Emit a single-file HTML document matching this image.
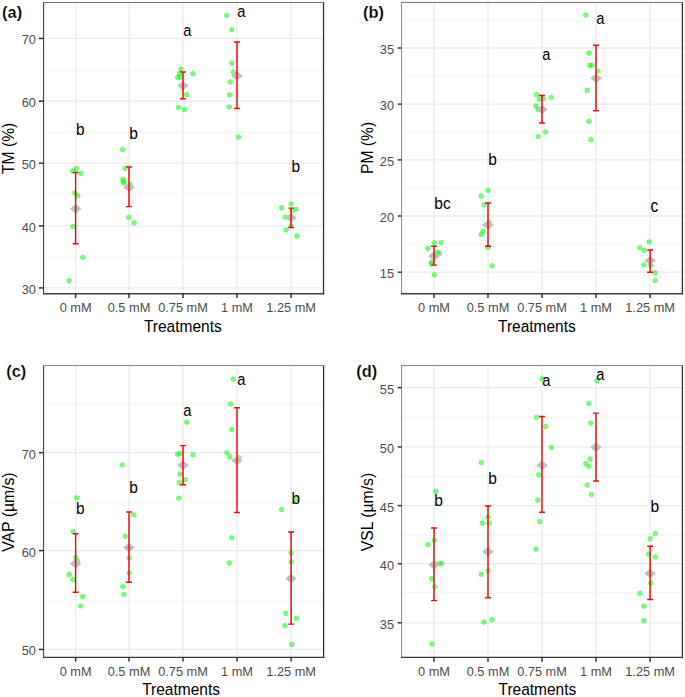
<!DOCTYPE html>
<html><head><meta charset="utf-8"><style>
html,body{margin:0;padding:0;background:#fff;width:685px;height:697px;overflow:hidden}
svg{display:block}
text{font-family:"Liberation Sans",sans-serif}
.yt{font-size:12.8px;fill:#4d4d4d;text-anchor:end}
.xt{font-size:12.8px;fill:#4d4d4d;text-anchor:middle}
.ti{font-size:15.5px;fill:#000}
.l{font-size:15.5px;fill:#000}
.tg{font-size:16.4px;font-weight:bold;fill:#000;stroke:#fff;stroke-width:.2px}
.p{fill:#00ff00;fill-opacity:.5;stroke:#00ff00;stroke-opacity:.5;stroke-width:.8}
.e{fill:none;stroke:#ff0000;stroke-width:1.45}
</style></head><body>
<svg width="685" height="697" viewBox="0 0 685 697">
<rect width="685" height="697" fill="#fff"/>
<g>
<line x1="43.55" x2="323.55" y1="257.2" y2="257.2" stroke="#f4f4f4" stroke-width="1.1"/>
<line x1="43.55" x2="323.55" y1="194.3" y2="194.3" stroke="#f4f4f4" stroke-width="1.1"/>
<line x1="43.55" x2="323.55" y1="132.4" y2="132.4" stroke="#f4f4f4" stroke-width="1.1"/>
<line x1="43.55" x2="323.55" y1="70.2" y2="70.2" stroke="#f4f4f4" stroke-width="1.1"/>
<line x1="43.55" x2="323.55" y1="7.8" y2="7.8" stroke="#f4f4f4" stroke-width="1.1"/>
<line x1="43.55" x2="323.55" y1="287.9" y2="287.9" stroke="#ebebeb" stroke-width="1.3"/>
<line x1="43.55" x2="323.55" y1="225.95" y2="225.95" stroke="#ebebeb" stroke-width="1.3"/>
<line x1="43.55" x2="323.55" y1="163.2" y2="163.2" stroke="#ebebeb" stroke-width="1.3"/>
<line x1="43.55" x2="323.55" y1="101.2" y2="101.2" stroke="#ebebeb" stroke-width="1.3"/>
<line x1="43.55" x2="323.55" y1="38.45" y2="38.45" stroke="#ebebeb" stroke-width="1.3"/>
<line x1="75.63" x2="75.63" y1="2.5" y2="293.75" stroke="#ebebeb" stroke-width="1.3"/>
<line x1="129" x2="129" y1="2.5" y2="293.75" stroke="#ebebeb" stroke-width="1.3"/>
<line x1="183" x2="183" y1="2.5" y2="293.75" stroke="#ebebeb" stroke-width="1.3"/>
<line x1="237" x2="237" y1="2.5" y2="293.75" stroke="#ebebeb" stroke-width="1.3"/>
<line x1="291.1" x2="291.1" y1="2.5" y2="293.75" stroke="#ebebeb" stroke-width="1.3"/>
<circle cx="69.05" cy="280.8" r="2.35" class="p"/>
<circle cx="82.8" cy="257.4" r="2.35" class="p"/>
<circle cx="72.9" cy="226.7" r="2.35" class="p"/>
<circle cx="74.9" cy="193" r="2.35" class="p"/>
<circle cx="77.8" cy="195.9" r="2.35" class="p"/>
<circle cx="72.6" cy="171.2" r="2.35" class="p"/>
<circle cx="76.3" cy="168.6" r="2.35" class="p"/>
<circle cx="80.8" cy="173.3" r="2.35" class="p"/>
<circle cx="122.5" cy="149.5" r="2.35" class="p"/>
<circle cx="125.1" cy="168.3" r="2.35" class="p"/>
<circle cx="122.9" cy="179.4" r="2.35" class="p"/>
<circle cx="123.5" cy="181.4" r="2.35" class="p"/>
<circle cx="123.9" cy="183" r="2.35" class="p"/>
<circle cx="130.1" cy="184.4" r="2.35" class="p"/>
<circle cx="128.7" cy="217.4" r="2.35" class="p"/>
<circle cx="134.1" cy="222.8" r="2.35" class="p"/>
<circle cx="180.9" cy="69.1" r="2.35" class="p"/>
<circle cx="179.5" cy="73.4" r="2.35" class="p"/>
<circle cx="177.7" cy="77.4" r="2.35" class="p"/>
<circle cx="180.2" cy="77.2" r="2.35" class="p"/>
<circle cx="192.9" cy="73.8" r="2.35" class="p"/>
<circle cx="186.6" cy="94.7" r="2.35" class="p"/>
<circle cx="178.5" cy="107.4" r="2.35" class="p"/>
<circle cx="184.4" cy="109.7" r="2.35" class="p"/>
<circle cx="226.8" cy="15.5" r="2.35" class="p"/>
<circle cx="231.8" cy="29.8" r="2.35" class="p"/>
<circle cx="231.8" cy="63.2" r="2.35" class="p"/>
<circle cx="233.2" cy="72.2" r="2.35" class="p"/>
<circle cx="230.3" cy="81.9" r="2.35" class="p"/>
<circle cx="229.6" cy="94.8" r="2.35" class="p"/>
<circle cx="229.2" cy="107" r="2.35" class="p"/>
<circle cx="238.5" cy="137.1" r="2.35" class="p"/>
<circle cx="291.1" cy="204" r="2.35" class="p"/>
<circle cx="281.7" cy="207.9" r="2.35" class="p"/>
<circle cx="291.8" cy="210.8" r="2.35" class="p"/>
<circle cx="296.1" cy="209.3" r="2.35" class="p"/>
<circle cx="285" cy="217.2" r="2.35" class="p"/>
<circle cx="291.1" cy="225.8" r="2.35" class="p"/>
<circle cx="286" cy="229.8" r="2.35" class="p"/>
<circle cx="296.8" cy="235.9" r="2.35" class="p"/>
<path d="M69.83 208.7L75.63 203.95L81.43 208.7L75.63 213.45Z" fill="#bebebe"/>
<path d="M123.2 187.5L129 182.75L134.8 187.5L129 192.25Z" fill="#bebebe"/>
<path d="M177.2 85.7L183 80.95L188.8 85.7L183 90.45Z" fill="#bebebe"/>
<path d="M231.2 75.7L237 70.95L242.8 75.7L237 80.45Z" fill="#bebebe"/>
<path d="M285.3 217.8L291.1 213.05L296.9 217.8L291.1 222.55Z" fill="#bebebe"/>
<path d="M75.63 172.5V243.8M72.73 172.5H78.53M72.73 243.8H78.53" class="e"/>
<path d="M129 166.9V206.6M126.1 166.9H131.9M126.1 206.6H131.9" class="e"/>
<path d="M183 72V98.8M180.1 72H185.9M180.1 98.8H185.9" class="e"/>
<path d="M237 42V108.4M234.1 42H239.9M234.1 108.4H239.9" class="e"/>
<path d="M291.1 208.1V227.4M288.2 208.1H294M288.2 227.4H294" class="e"/>
<text transform="translate(75.98 135.3) scale(1.0 1.1)" class="l">b</text>
<text transform="translate(129.35 139.2) scale(1.0 1.1)" class="l">b</text>
<text transform="translate(183.35 36) scale(0.95 1.1)" class="l">a</text>
<text transform="translate(237.35 17.4) scale(0.95 1.1)" class="l">a</text>
<text transform="translate(291.45 171.7) scale(1.0 1.1)" class="l">b</text>
<line x1="43.55" x2="43.55" y1="2" y2="294.35" stroke="#4d4d4d" stroke-width="1.2"/>
<line x1="323.55" x2="323.55" y1="2" y2="294.35" stroke="#333" stroke-width="1.3"/>
<line x1="43.05" x2="324.15" y1="2.5" y2="2.5" stroke="#707070" stroke-width="1.0"/>
<line x1="43.05" x2="324.15" y1="293.75" y2="293.75" stroke="#404040" stroke-width="1.3"/>
<line x1="38.9" x2="43.55" y1="287.9" y2="287.9" stroke="#333333" stroke-width="1.5"/>
<text transform="translate(35.95 293.9) scale(1 1.06)" class="yt">30</text>
<line x1="38.9" x2="43.55" y1="225.95" y2="225.95" stroke="#333333" stroke-width="1.5"/>
<text transform="translate(35.95 231.95) scale(1 1.06)" class="yt">40</text>
<line x1="38.9" x2="43.55" y1="163.2" y2="163.2" stroke="#333333" stroke-width="1.5"/>
<text transform="translate(35.95 169.2) scale(1 1.06)" class="yt">50</text>
<line x1="38.9" x2="43.55" y1="101.2" y2="101.2" stroke="#333333" stroke-width="1.5"/>
<text transform="translate(35.95 107.2) scale(1 1.06)" class="yt">60</text>
<line x1="38.9" x2="43.55" y1="38.45" y2="38.45" stroke="#333333" stroke-width="1.5"/>
<text transform="translate(35.95 44.45) scale(1 1.06)" class="yt">70</text>
<line x1="75.63" x2="75.63" y1="293.75" y2="298.05" stroke="#333333" stroke-width="1.5"/>
<text transform="translate(75.63 311.95) scale(1 1.06)" class="xt">0 mM</text>
<line x1="129" x2="129" y1="293.75" y2="298.05" stroke="#333333" stroke-width="1.5"/>
<text transform="translate(129 311.95) scale(1 1.06)" class="xt">0.5 mM</text>
<line x1="183" x2="183" y1="293.75" y2="298.05" stroke="#333333" stroke-width="1.5"/>
<text transform="translate(183 311.95) scale(1 1.06)" class="xt">0.75 mM</text>
<line x1="237" x2="237" y1="293.75" y2="298.05" stroke="#333333" stroke-width="1.5"/>
<text transform="translate(237 311.95) scale(1 1.06)" class="xt">1 mM</text>
<line x1="291.1" x2="291.1" y1="293.75" y2="298.05" stroke="#333333" stroke-width="1.5"/>
<text transform="translate(291.1 311.95) scale(1 1.06)" class="xt">1.25 mM</text>
<text transform="translate(182.8 331.8) scale(1 1.07)" class="ti" text-anchor="middle">Treatments</text>
<text transform="translate(14.3 148.35) rotate(-90) scale(1.01 1.07)" class="ti" text-anchor="middle">TM (%)</text>
<text transform="translate(2.08 17.5) scale(1 1.04)" class="tg">(a)</text>
</g>
<g>
<line x1="401.6" x2="682.4" y1="244.3" y2="244.3" stroke="#f4f4f4" stroke-width="1.1"/>
<line x1="401.6" x2="682.4" y1="188.2" y2="188.2" stroke="#f4f4f4" stroke-width="1.1"/>
<line x1="401.6" x2="682.4" y1="131.8" y2="131.8" stroke="#f4f4f4" stroke-width="1.1"/>
<line x1="401.6" x2="682.4" y1="76" y2="76" stroke="#f4f4f4" stroke-width="1.1"/>
<line x1="401.6" x2="682.4" y1="20.5" y2="20.5" stroke="#f4f4f4" stroke-width="1.1"/>
<line x1="401.6" x2="682.4" y1="272.2" y2="272.2" stroke="#ebebeb" stroke-width="1.3"/>
<line x1="401.6" x2="682.4" y1="216" y2="216" stroke="#ebebeb" stroke-width="1.3"/>
<line x1="401.6" x2="682.4" y1="159.9" y2="159.9" stroke="#ebebeb" stroke-width="1.3"/>
<line x1="401.6" x2="682.4" y1="104.1" y2="104.1" stroke="#ebebeb" stroke-width="1.3"/>
<line x1="401.6" x2="682.4" y1="48" y2="48" stroke="#ebebeb" stroke-width="1.3"/>
<line x1="434" x2="434" y1="2.4" y2="293.75" stroke="#ebebeb" stroke-width="1.3"/>
<line x1="488" x2="488" y1="2.4" y2="293.75" stroke="#ebebeb" stroke-width="1.3"/>
<line x1="542" x2="542" y1="2.4" y2="293.75" stroke="#ebebeb" stroke-width="1.3"/>
<line x1="596" x2="596" y1="2.4" y2="293.75" stroke="#ebebeb" stroke-width="1.3"/>
<line x1="650.1" x2="650.1" y1="2.4" y2="293.75" stroke="#ebebeb" stroke-width="1.3"/>
<circle cx="434.4" cy="242.9" r="2.35" class="p"/>
<circle cx="440.9" cy="242.5" r="2.35" class="p"/>
<circle cx="428" cy="248.3" r="2.35" class="p"/>
<circle cx="439.3" cy="253.2" r="2.35" class="p"/>
<circle cx="437.2" cy="252.5" r="2.35" class="p"/>
<circle cx="431.4" cy="262.2" r="2.35" class="p"/>
<circle cx="431.6" cy="263.9" r="2.35" class="p"/>
<circle cx="434.4" cy="274.8" r="2.35" class="p"/>
<circle cx="488.1" cy="190.3" r="2.35" class="p"/>
<circle cx="481.2" cy="196.2" r="2.35" class="p"/>
<circle cx="483.8" cy="204.8" r="2.35" class="p"/>
<circle cx="489.2" cy="222.3" r="2.35" class="p"/>
<circle cx="483.1" cy="231.4" r="2.35" class="p"/>
<circle cx="481.2" cy="234.5" r="2.35" class="p"/>
<circle cx="488.1" cy="247.4" r="2.35" class="p"/>
<circle cx="492.1" cy="265.8" r="2.35" class="p"/>
<circle cx="536.7" cy="94.7" r="2.35" class="p"/>
<circle cx="539.5" cy="99.2" r="2.35" class="p"/>
<circle cx="543.4" cy="98.8" r="2.35" class="p"/>
<circle cx="551.1" cy="97.5" r="2.35" class="p"/>
<circle cx="535.9" cy="106.1" r="2.35" class="p"/>
<circle cx="538.2" cy="109.5" r="2.35" class="p"/>
<circle cx="545.5" cy="132" r="2.35" class="p"/>
<circle cx="538.2" cy="136.6" r="2.35" class="p"/>
<circle cx="585.8" cy="15.1" r="2.35" class="p"/>
<circle cx="588.9" cy="53.1" r="2.35" class="p"/>
<circle cx="589.6" cy="65.3" r="2.35" class="p"/>
<circle cx="592.1" cy="65.3" r="2.35" class="p"/>
<circle cx="597.8" cy="71.3" r="2.35" class="p"/>
<circle cx="587.2" cy="90.4" r="2.35" class="p"/>
<circle cx="588.9" cy="121.3" r="2.35" class="p"/>
<circle cx="590.8" cy="139.6" r="2.35" class="p"/>
<circle cx="649.3" cy="241.8" r="2.35" class="p"/>
<circle cx="639.7" cy="247.6" r="2.35" class="p"/>
<circle cx="644.3" cy="250.4" r="2.35" class="p"/>
<circle cx="644" cy="264.8" r="2.35" class="p"/>
<circle cx="650.8" cy="265.5" r="2.35" class="p"/>
<circle cx="655.1" cy="272.7" r="2.35" class="p"/>
<circle cx="655.1" cy="280.6" r="2.35" class="p"/>
<path d="M428.2 256.1L434 251.35L439.8 256.1L434 260.85Z" fill="#bebebe"/>
<path d="M482.2 224.9L488 220.15L493.8 224.9L488 229.65Z" fill="#bebebe"/>
<path d="M536.2 109.6L542 104.85L547.8 109.6L542 114.35Z" fill="#bebebe"/>
<path d="M590.2 78.2L596 73.45L601.8 78.2L596 82.95Z" fill="#bebebe"/>
<path d="M644.3 260.5L650.1 255.75L655.9 260.5L650.1 265.25Z" fill="#bebebe"/>
<path d="M434 246.3V265.1M431.1 246.3H436.9M431.1 265.1H436.9" class="e"/>
<path d="M488 203V246.3M485.1 203H490.9M485.1 246.3H490.9" class="e"/>
<path d="M542 95.5V122.9M539.1 95.5H544.9M539.1 122.9H544.9" class="e"/>
<path d="M596 45.2V110.7M593.1 45.2H598.9M593.1 110.7H598.9" class="e"/>
<path d="M650.1 249.9V272.2M647.2 249.9H653M647.2 272.2H653" class="e"/>
<text transform="translate(434.35 209.1) scale(1.0 1.1)" class="l">bc</text>
<text transform="translate(488.35 164.9) scale(1.0 1.1)" class="l">b</text>
<text transform="translate(542.35 60.3) scale(0.95 1.1)" class="l">a</text>
<text transform="translate(596.35 24.2) scale(0.95 1.1)" class="l">a</text>
<text transform="translate(650.45 211.6) scale(1.0 1.2)" class="l">c</text>
<line x1="401.6" x2="401.6" y1="1.9" y2="294.35" stroke="#888" stroke-width="1.0"/>
<line x1="682.4" x2="682.4" y1="1.9" y2="294.35" stroke="#333" stroke-width="1.3"/>
<line x1="401.1" x2="683" y1="2.4" y2="2.4" stroke="#707070" stroke-width="1.0"/>
<line x1="401.1" x2="683" y1="293.75" y2="293.75" stroke="#404040" stroke-width="1.3"/>
<line x1="397.8" x2="401.6" y1="272.2" y2="272.2" stroke="#333333" stroke-width="1.5"/>
<text transform="translate(394 278.2) scale(1 1.06)" class="yt">15</text>
<line x1="397.8" x2="401.6" y1="216" y2="216" stroke="#333333" stroke-width="1.5"/>
<text transform="translate(394 222) scale(1 1.06)" class="yt">20</text>
<line x1="397.8" x2="401.6" y1="159.9" y2="159.9" stroke="#333333" stroke-width="1.5"/>
<text transform="translate(394 165.9) scale(1 1.06)" class="yt">25</text>
<line x1="397.8" x2="401.6" y1="104.1" y2="104.1" stroke="#333333" stroke-width="1.5"/>
<text transform="translate(394 110.1) scale(1 1.06)" class="yt">30</text>
<line x1="397.8" x2="401.6" y1="48" y2="48" stroke="#333333" stroke-width="1.5"/>
<text transform="translate(394 54) scale(1 1.06)" class="yt">35</text>
<line x1="434" x2="434" y1="293.75" y2="298.05" stroke="#333333" stroke-width="1.5"/>
<text transform="translate(434 311.95) scale(1 1.06)" class="xt">0 mM</text>
<line x1="488" x2="488" y1="293.75" y2="298.05" stroke="#333333" stroke-width="1.5"/>
<text transform="translate(488 311.95) scale(1 1.06)" class="xt">0.5 mM</text>
<line x1="542" x2="542" y1="293.75" y2="298.05" stroke="#333333" stroke-width="1.5"/>
<text transform="translate(542 311.95) scale(1 1.06)" class="xt">0.75 mM</text>
<line x1="596" x2="596" y1="293.75" y2="298.05" stroke="#333333" stroke-width="1.5"/>
<text transform="translate(596 311.95) scale(1 1.06)" class="xt">1 mM</text>
<line x1="650.1" x2="650.1" y1="293.75" y2="298.05" stroke="#333333" stroke-width="1.5"/>
<text transform="translate(650.1 311.95) scale(1 1.06)" class="xt">1.25 mM</text>
<text transform="translate(536.9 332.3) scale(1 1.07)" class="ti" text-anchor="middle">Treatments</text>
<text transform="translate(373 147.9) rotate(-90) scale(1.01 1.07)" class="ti" text-anchor="middle">PM (%)</text>
<text transform="translate(362.98 17.6) scale(1 1.04)" class="tg">(b)</text>
</g>
<g>
<line x1="43.55" x2="323.6" y1="600.3" y2="600.3" stroke="#f4f4f4" stroke-width="1.1"/>
<line x1="43.55" x2="323.6" y1="502" y2="502" stroke="#f4f4f4" stroke-width="1.1"/>
<line x1="43.55" x2="323.6" y1="404" y2="404" stroke="#f4f4f4" stroke-width="1.1"/>
<line x1="43.55" x2="323.6" y1="649.45" y2="649.45" stroke="#ebebeb" stroke-width="1.3"/>
<line x1="43.55" x2="323.6" y1="550.6" y2="550.6" stroke="#ebebeb" stroke-width="1.3"/>
<line x1="43.55" x2="323.6" y1="452.7" y2="452.7" stroke="#ebebeb" stroke-width="1.3"/>
<line x1="75.63" x2="75.63" y1="365.5" y2="657.3" stroke="#ebebeb" stroke-width="1.3"/>
<line x1="129" x2="129" y1="365.5" y2="657.3" stroke="#ebebeb" stroke-width="1.3"/>
<line x1="183" x2="183" y1="365.5" y2="657.3" stroke="#ebebeb" stroke-width="1.3"/>
<line x1="237" x2="237" y1="365.5" y2="657.3" stroke="#ebebeb" stroke-width="1.3"/>
<line x1="291.1" x2="291.1" y1="365.5" y2="657.3" stroke="#ebebeb" stroke-width="1.3"/>
<circle cx="76.8" cy="497.9" r="2.35" class="p"/>
<circle cx="73.2" cy="531.6" r="2.35" class="p"/>
<circle cx="75.8" cy="557.6" r="2.35" class="p"/>
<circle cx="77.4" cy="561.2" r="2.35" class="p"/>
<circle cx="69.2" cy="574.4" r="2.35" class="p"/>
<circle cx="72.9" cy="579.7" r="2.35" class="p"/>
<circle cx="82.7" cy="596.6" r="2.35" class="p"/>
<circle cx="80.5" cy="606" r="2.35" class="p"/>
<circle cx="122.3" cy="465" r="2.35" class="p"/>
<circle cx="133.8" cy="514.8" r="2.35" class="p"/>
<circle cx="125.2" cy="536.3" r="2.35" class="p"/>
<circle cx="129.1" cy="557.8" r="2.35" class="p"/>
<circle cx="129.1" cy="573" r="2.35" class="p"/>
<circle cx="122.9" cy="586.6" r="2.35" class="p"/>
<circle cx="123.8" cy="594.5" r="2.35" class="p"/>
<circle cx="186.7" cy="422.2" r="2.35" class="p"/>
<circle cx="177.5" cy="454.2" r="2.35" class="p"/>
<circle cx="180.1" cy="453.4" r="2.35" class="p"/>
<circle cx="193" cy="454.8" r="2.35" class="p"/>
<circle cx="180.1" cy="474.1" r="2.35" class="p"/>
<circle cx="185.2" cy="479.8" r="2.35" class="p"/>
<circle cx="179.2" cy="482.7" r="2.35" class="p"/>
<circle cx="178.8" cy="498.2" r="2.35" class="p"/>
<circle cx="233.2" cy="379.1" r="2.35" class="p"/>
<circle cx="230.6" cy="404" r="2.35" class="p"/>
<circle cx="231.8" cy="429.6" r="2.35" class="p"/>
<circle cx="226.8" cy="452.8" r="2.35" class="p"/>
<circle cx="229.9" cy="456.8" r="2.35" class="p"/>
<circle cx="238.8" cy="457.9" r="2.35" class="p"/>
<circle cx="231.8" cy="537.8" r="2.35" class="p"/>
<circle cx="229.2" cy="563" r="2.35" class="p"/>
<circle cx="295.7" cy="499.4" r="2.35" class="p"/>
<circle cx="281.5" cy="509.7" r="2.35" class="p"/>
<circle cx="291.1" cy="552.9" r="2.35" class="p"/>
<circle cx="291.1" cy="562.1" r="2.35" class="p"/>
<circle cx="285.8" cy="613.4" r="2.35" class="p"/>
<circle cx="296.5" cy="618.4" r="2.35" class="p"/>
<circle cx="284.9" cy="625.7" r="2.35" class="p"/>
<circle cx="291.8" cy="644.4" r="2.35" class="p"/>
<path d="M69.83 563.5L75.63 558.75L81.43 563.5L75.63 568.25Z" fill="#bebebe"/>
<path d="M123.2 547.5L129 542.75L134.8 547.5L129 552.25Z" fill="#bebebe"/>
<path d="M177.2 465.3L183 460.55L188.8 465.3L183 470.05Z" fill="#bebebe"/>
<path d="M231.2 460.5L237 455.75L242.8 460.5L237 465.25Z" fill="#bebebe"/>
<path d="M285.3 578.4L291.1 573.65L296.9 578.4L291.1 583.15Z" fill="#bebebe"/>
<path d="M75.63 533.8V592.3M72.73 533.8H78.53M72.73 592.3H78.53" class="e"/>
<path d="M129 511.9V582.3M126.1 511.9H131.9M126.1 582.3H131.9" class="e"/>
<path d="M183 445.6V484.8M180.1 445.6H185.9M180.1 484.8H185.9" class="e"/>
<path d="M237 407.8V512.5M234.1 407.8H239.9M234.1 512.5H239.9" class="e"/>
<path d="M291.1 531.9V624.1M288.2 531.9H294M288.2 624.1H294" class="e"/>
<text transform="translate(75.98 513.5) scale(1.0 1.1)" class="l">b</text>
<text transform="translate(129.35 492.7) scale(1.0 1.1)" class="l">b</text>
<text transform="translate(183.35 415.6) scale(0.95 1.1)" class="l">a</text>
<text transform="translate(237.35 385.3) scale(0.95 1.1)" class="l">a</text>
<text transform="translate(291.45 504.2) scale(1.0 1.1)" class="l">b</text>
<line x1="43.55" x2="43.55" y1="365" y2="657.9" stroke="#4d4d4d" stroke-width="1.2"/>
<line x1="323.6" x2="323.6" y1="365" y2="657.9" stroke="#333" stroke-width="1.3"/>
<line x1="43.05" x2="324.2" y1="365.5" y2="365.5" stroke="#8a8a8a" stroke-width="1.0"/>
<line x1="43.05" x2="324.2" y1="657.3" y2="657.3" stroke="#363636" stroke-width="1.25"/>
<line x1="38.9" x2="43.55" y1="649.45" y2="649.45" stroke="#333333" stroke-width="1.5"/>
<text transform="translate(35.95 655.45) scale(1 1.06)" class="yt">50</text>
<line x1="38.9" x2="43.55" y1="550.6" y2="550.6" stroke="#333333" stroke-width="1.5"/>
<text transform="translate(35.95 556.6) scale(1 1.06)" class="yt">60</text>
<line x1="38.9" x2="43.55" y1="452.7" y2="452.7" stroke="#333333" stroke-width="1.5"/>
<text transform="translate(35.95 458.7) scale(1 1.06)" class="yt">70</text>
<line x1="75.63" x2="75.63" y1="657.3" y2="661.6" stroke="#333333" stroke-width="1.5"/>
<text transform="translate(75.63 675.5) scale(1 1.06)" class="xt">0 mM</text>
<line x1="129" x2="129" y1="657.3" y2="661.6" stroke="#333333" stroke-width="1.5"/>
<text transform="translate(129 675.5) scale(1 1.06)" class="xt">0.5 mM</text>
<line x1="183" x2="183" y1="657.3" y2="661.6" stroke="#333333" stroke-width="1.5"/>
<text transform="translate(183 675.5) scale(1 1.06)" class="xt">0.75 mM</text>
<line x1="237" x2="237" y1="657.3" y2="661.6" stroke="#333333" stroke-width="1.5"/>
<text transform="translate(237 675.5) scale(1 1.06)" class="xt">1 mM</text>
<line x1="291.1" x2="291.1" y1="657.3" y2="661.6" stroke="#333333" stroke-width="1.5"/>
<text transform="translate(291.1 675.5) scale(1 1.06)" class="xt">1.25 mM</text>
<text transform="translate(181.1 695.4) scale(1 1.07)" class="ti" text-anchor="middle">Treatments</text>
<text transform="translate(14.3 512.1) rotate(-90) scale(1.017 1.07)" class="ti" text-anchor="middle">VAP (µm/s)</text>
<text transform="translate(6.18 377.2) scale(1 1.04)" class="tg">(c)</text>
</g>
<g>
<line x1="401.6" x2="682.4" y1="652" y2="652" stroke="#f4f4f4" stroke-width="1.1"/>
<line x1="401.6" x2="682.4" y1="593.1" y2="593.1" stroke="#f4f4f4" stroke-width="1.1"/>
<line x1="401.6" x2="682.4" y1="535" y2="535" stroke="#f4f4f4" stroke-width="1.1"/>
<line x1="401.6" x2="682.4" y1="476.4" y2="476.4" stroke="#f4f4f4" stroke-width="1.1"/>
<line x1="401.6" x2="682.4" y1="417.3" y2="417.3" stroke="#f4f4f4" stroke-width="1.1"/>
<line x1="401.6" x2="682.4" y1="622.8" y2="622.8" stroke="#ebebeb" stroke-width="1.3"/>
<line x1="401.6" x2="682.4" y1="563.7" y2="563.7" stroke="#ebebeb" stroke-width="1.3"/>
<line x1="401.6" x2="682.4" y1="505.6" y2="505.6" stroke="#ebebeb" stroke-width="1.3"/>
<line x1="401.6" x2="682.4" y1="446.9" y2="446.9" stroke="#ebebeb" stroke-width="1.3"/>
<line x1="401.6" x2="682.4" y1="387.6" y2="387.6" stroke="#ebebeb" stroke-width="1.3"/>
<line x1="434" x2="434" y1="365.5" y2="657.4" stroke="#ebebeb" stroke-width="1.3"/>
<line x1="488" x2="488" y1="365.5" y2="657.4" stroke="#ebebeb" stroke-width="1.3"/>
<line x1="542" x2="542" y1="365.5" y2="657.4" stroke="#ebebeb" stroke-width="1.3"/>
<line x1="596" x2="596" y1="365.5" y2="657.4" stroke="#ebebeb" stroke-width="1.3"/>
<line x1="650.1" x2="650.1" y1="365.5" y2="657.4" stroke="#ebebeb" stroke-width="1.3"/>
<circle cx="435.8" cy="491.3" r="2.35" class="p"/>
<circle cx="434.5" cy="540.4" r="2.35" class="p"/>
<circle cx="427.9" cy="544.7" r="2.35" class="p"/>
<circle cx="439" cy="563.6" r="2.35" class="p"/>
<circle cx="441.5" cy="563.6" r="2.35" class="p"/>
<circle cx="431.7" cy="578.7" r="2.35" class="p"/>
<circle cx="434.7" cy="586.8" r="2.35" class="p"/>
<circle cx="432.1" cy="644" r="2.35" class="p"/>
<circle cx="481.2" cy="462.6" r="2.35" class="p"/>
<circle cx="488.1" cy="517.1" r="2.35" class="p"/>
<circle cx="482.3" cy="523.2" r="2.35" class="p"/>
<circle cx="489.2" cy="523.2" r="2.35" class="p"/>
<circle cx="488.1" cy="570.8" r="2.35" class="p"/>
<circle cx="481.2" cy="574.4" r="2.35" class="p"/>
<circle cx="484.1" cy="622.1" r="2.35" class="p"/>
<circle cx="492.1" cy="619.6" r="2.35" class="p"/>
<circle cx="542.1" cy="378.9" r="2.35" class="p"/>
<circle cx="536.6" cy="417.4" r="2.35" class="p"/>
<circle cx="545.7" cy="426.7" r="2.35" class="p"/>
<circle cx="551.4" cy="447.5" r="2.35" class="p"/>
<circle cx="538.6" cy="474.8" r="2.35" class="p"/>
<circle cx="537.8" cy="500.2" r="2.35" class="p"/>
<circle cx="539.7" cy="521.8" r="2.35" class="p"/>
<circle cx="535.9" cy="549.1" r="2.35" class="p"/>
<circle cx="597.2" cy="380.8" r="2.35" class="p"/>
<circle cx="588.9" cy="403.5" r="2.35" class="p"/>
<circle cx="590.8" cy="423.1" r="2.35" class="p"/>
<circle cx="590.1" cy="458.9" r="2.35" class="p"/>
<circle cx="585.8" cy="463.7" r="2.35" class="p"/>
<circle cx="588.9" cy="466.5" r="2.35" class="p"/>
<circle cx="587.2" cy="485.2" r="2.35" class="p"/>
<circle cx="591.5" cy="494.5" r="2.35" class="p"/>
<circle cx="655.1" cy="533.4" r="2.35" class="p"/>
<circle cx="650.1" cy="538.8" r="2.35" class="p"/>
<circle cx="648.7" cy="554.2" r="2.35" class="p"/>
<circle cx="655.1" cy="557" r="2.35" class="p"/>
<circle cx="650.8" cy="583" r="2.35" class="p"/>
<circle cx="639.8" cy="593.3" r="2.35" class="p"/>
<circle cx="643.9" cy="606.2" r="2.35" class="p"/>
<circle cx="643.9" cy="620.7" r="2.35" class="p"/>
<path d="M428.2 564.8L434 560.05L439.8 564.8L434 569.55Z" fill="#bebebe"/>
<path d="M482.2 551.8L488 547.05L493.8 551.8L488 556.55Z" fill="#bebebe"/>
<path d="M536.2 465.3L542 460.55L547.8 465.3L542 470.05Z" fill="#bebebe"/>
<path d="M590.2 447.2L596 442.45L601.8 447.2L596 451.95Z" fill="#bebebe"/>
<path d="M644.3 573.4L650.1 568.65L655.9 573.4L650.1 578.15Z" fill="#bebebe"/>
<path d="M434 527.9V600.6M431.1 527.9H436.9M431.1 600.6H436.9" class="e"/>
<path d="M488 506V597.7M485.1 506H490.9M485.1 597.7H490.9" class="e"/>
<path d="M542 416.4V512.3M539.1 416.4H544.9M539.1 512.3H544.9" class="e"/>
<path d="M596 413.1V480.9M593.1 413.1H598.9M593.1 480.9H598.9" class="e"/>
<path d="M650.1 546.3V599.5M647.2 546.3H653M647.2 599.5H653" class="e"/>
<text transform="translate(434.35 505.7) scale(1.0 1.1)" class="l">b</text>
<text transform="translate(488.35 484.2) scale(1.0 1.1)" class="l">b</text>
<text transform="translate(542.35 386.3) scale(0.95 1.1)" class="l">a</text>
<text transform="translate(596.35 379.8) scale(0.95 1.1)" class="l">a</text>
<text transform="translate(650.45 512.4) scale(1.0 1.1)" class="l">b</text>
<line x1="401.6" x2="401.6" y1="365" y2="658" stroke="#888" stroke-width="1.0"/>
<line x1="682.4" x2="682.4" y1="365" y2="658" stroke="#333" stroke-width="1.3"/>
<line x1="401.1" x2="683" y1="365.5" y2="365.5" stroke="#8a8a8a" stroke-width="1.0"/>
<line x1="401.1" x2="683" y1="657.4" y2="657.4" stroke="#363636" stroke-width="1.25"/>
<line x1="397.8" x2="401.6" y1="622.8" y2="622.8" stroke="#333333" stroke-width="1.5"/>
<text transform="translate(394 628.8) scale(1 1.06)" class="yt">35</text>
<line x1="397.8" x2="401.6" y1="563.7" y2="563.7" stroke="#333333" stroke-width="1.5"/>
<text transform="translate(394 569.7) scale(1 1.06)" class="yt">40</text>
<line x1="397.8" x2="401.6" y1="505.6" y2="505.6" stroke="#333333" stroke-width="1.5"/>
<text transform="translate(394 511.6) scale(1 1.06)" class="yt">45</text>
<line x1="397.8" x2="401.6" y1="446.9" y2="446.9" stroke="#333333" stroke-width="1.5"/>
<text transform="translate(394 452.9) scale(1 1.06)" class="yt">50</text>
<line x1="397.8" x2="401.6" y1="387.6" y2="387.6" stroke="#333333" stroke-width="1.5"/>
<text transform="translate(394 393.6) scale(1 1.06)" class="yt">55</text>
<line x1="434" x2="434" y1="657.4" y2="661.7" stroke="#333333" stroke-width="1.5"/>
<text transform="translate(434 675.6) scale(1 1.06)" class="xt">0 mM</text>
<line x1="488" x2="488" y1="657.4" y2="661.7" stroke="#333333" stroke-width="1.5"/>
<text transform="translate(488 675.6) scale(1 1.06)" class="xt">0.5 mM</text>
<line x1="542" x2="542" y1="657.4" y2="661.7" stroke="#333333" stroke-width="1.5"/>
<text transform="translate(542 675.6) scale(1 1.06)" class="xt">0.75 mM</text>
<line x1="596" x2="596" y1="657.4" y2="661.7" stroke="#333333" stroke-width="1.5"/>
<text transform="translate(596 675.6) scale(1 1.06)" class="xt">1 mM</text>
<line x1="650.1" x2="650.1" y1="657.4" y2="661.7" stroke="#333333" stroke-width="1.5"/>
<text transform="translate(650.1 675.6) scale(1 1.06)" class="xt">1.25 mM</text>
<text transform="translate(537.4 695.4) scale(1 1.07)" class="ti" text-anchor="middle">Treatments</text>
<text transform="translate(372.9 512) rotate(-90) scale(1.017 1.07)" class="ti" text-anchor="middle">VSL (µm/s)</text>
<text transform="translate(356.18 377.1) scale(1 1.04)" class="tg">(d)</text>
</g>
</svg>
</body></html>
